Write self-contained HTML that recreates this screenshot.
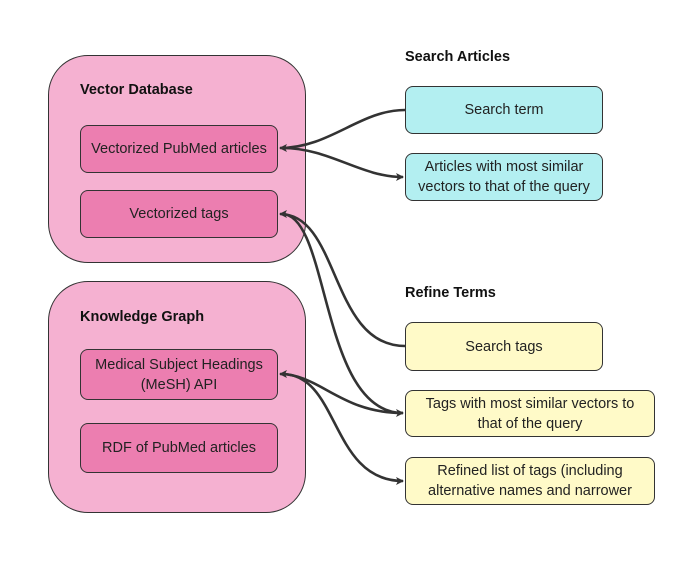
<!DOCTYPE html>
<html><head><style>
body{margin:0;width:700px;height:563px;background:#fff;font-family:"Liberation Sans",sans-serif;position:relative;overflow:hidden}
.b{position:absolute;box-sizing:border-box;border:1.3px solid #333;display:flex;align-items:center;justify-content:center;text-align:center;font-size:14.5px;color:#222;line-height:20px}
.o{background:#f5b1d1;border-radius:40px}
.i{background:#ec7eb0;border-radius:8px}
.c{background:#b3eff1;border-radius:8px}
.y{background:#fffac8;border-radius:8px}
.h{position:absolute;font-weight:bold;font-size:14.5px;color:#111}
svg{position:absolute;left:0;top:0}
</style></head><body>
<div class="b o" style="left:48px;top:55px;width:258px;height:208px"></div>
<div class="b o" style="left:48px;top:281px;width:258px;height:232px"></div>
<div class="h" style="left:80px;top:82px">Vector Database</div>
<div class="h" style="left:80px;top:309px">Knowledge Graph</div>
<div class="h" style="left:405px;top:49px">Search Articles</div>
<div class="h" style="left:405px;top:285px">Refine Terms</div>
<div class="b i" style="left:80px;top:125px;width:198px;height:48px">Vectorized PubMed articles</div>
<div class="b i" style="left:80px;top:190px;width:198px;height:48px">Vectorized tags</div>
<div class="b i" style="left:80px;top:349px;width:198px;height:51px">Medical Subject Headings<br>(MeSH) API</div>
<div class="b i" style="left:80px;top:423px;width:198px;height:50px">RDF of PubMed articles</div>
<div class="b c" style="left:405px;top:86px;width:198px;height:48px">Search term</div>
<div class="b c" style="left:405px;top:153px;width:198px;height:48px">Articles with most similar<br>vectors to that of the query</div>
<div class="b y" style="left:405px;top:322px;width:198px;height:49px">Search tags</div>
<div class="b y" style="left:405px;top:390px;width:250px;height:47px">Tags with most similar vectors to<br>that of the query</div>
<div class="b y" style="left:405px;top:457px;width:250px;height:48px;overflow:hidden;align-items:flex-start;padding-top:3px">Refined list of tags (including<br>alternative names and narrower</div>
<svg width="700" height="563"><defs><marker id="a" markerWidth="8" markerHeight="8" refX="7" refY="4" orient="auto" markerUnits="userSpaceOnUse"><path d="M0,0L8,4L0,8L2,4Z" fill="#333"/></marker></defs>
<g fill="none" stroke="#333" stroke-width="2.6">
<path d="M405,110C360,110 330,148 280,148" marker-end="url(#a)"/>
<path d="M282,148C330,148 360,177 403,177" marker-end="url(#a)"/>
<path d="M405,346C330,346 340,214 280,214" marker-end="url(#a)"/>
<path d="M282,214C330,214 320,413 403,413" marker-end="url(#a)"/>
<path d="M403,413C340,413 320,374 280,374" marker-end="url(#a)"/>
<path d="M282,374C340,374 330,481 403,481" marker-end="url(#a)"/>
</g></svg>
</body></html>
